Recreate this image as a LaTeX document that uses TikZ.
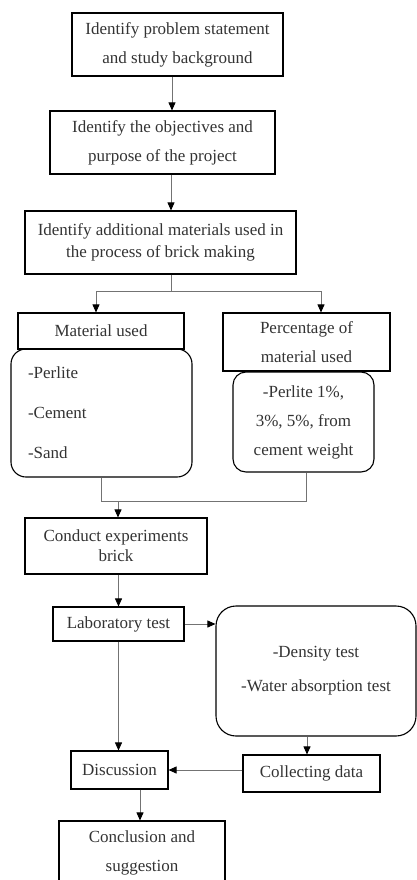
\documentclass[tikz,border=0pt]{standalone}
\usepackage{fontspec}
\setmainfont{Liberation Serif}
\usetikzlibrary{arrows.meta}

\begin{document}
\begin{tikzpicture}[x=1pt, y=-1pt,
    box/.style={draw, line width=1.1pt, align=center, inner sep=0pt, text=black!80, font=\fontsize{17}{29}\selectfont},
    rbox/.style={box, rounded corners=15pt},
    line/.style={draw=black!55, line width=0.8pt},
    arr/.style={line, -{Triangle[length=8pt, width=7pt, color=black]}}]
    \useasboundingbox (0,0) rectangle (417,880);
    \node[box, minimum width=211pt, minimum height=63pt] (prob) at (177.5,44.5) {Identify problem statement\\and study background};
    \node[box, minimum width=225pt, minimum height=63pt] (obj) at (162.5,142.5) {Identify the objectives and\\purpose of the project};
    \node[box, minimum width=271pt, minimum height=63pt, font=\fontsize{17}{22}\selectfont] (addmat) at (160.5,242.5) {Identify additional materials used in\\the process of brick making};
    \node[box, minimum width=166pt, minimum height=36pt] (matused) at (101,331) {Material used};
    \node[rbox, text width=147pt, inner xsep=17pt, minimum height=128pt, align=left, font=\fontsize{17}{40}\selectfont] (matlist) at (101.5,413) {-Perlite\\-Cement\\-Sand};
    \node[box, minimum width=167pt, minimum height=58pt] (pct) at (306.5,342) {Percentage of\\material used};
    \node[rbox, rounded corners=13pt, minimum width=141pt, minimum height=100pt] (pctlist) at (303.5,422) {-Perlite 1\%,\\3\%, 5\%, from\\cement weight};
    \node[box, minimum width=182pt, minimum height=56pt, font=\fontsize{17}{20}\selectfont] (conduct) at (116,546) {Conduct experiments\\brick};
    \node[box, minimum width=131pt, minimum height=34pt] (lab) at (118.5,624) {Laboratory test};
    \node[rbox, rounded corners=20pt, minimum width=200pt, minimum height=130pt, font=\fontsize{17}{34}\selectfont] (tests) at (316,671) {-Density test\\-Water absorption test};
    \node[box, minimum width=137pt, minimum height=37pt] (collect) at (311.5,773.5) {Collecting data};
    \node[box, minimum width=97pt, minimum height=38pt] (disc) at (119.5,770) {Discussion};
    \node[box, minimum width=166pt, minimum height=63pt] (concl) at (142,852.5) {Conclusion and\\suggestion};
    \coordinate (split) at (171,291);
    \coordinate (merge) at (118,501);

    % 矢印を描く
    \draw[arr] ([xshift=-5.5pt]prob.south) -- ([xshift=-5.5pt]prob.south |- obj.north);
    \draw[arr] ([xshift=8.5pt]obj.south) -- ([xshift=8.5pt]obj.south |- addmat.north);
    \draw[line] ([xshift=10.5pt]addmat.south) -- (split);
    \draw[arr] (split) -| ([xshift=-5pt]matused.north);
    \draw[arr] (split) -| ([xshift=14.5pt]pct.north);
    \draw[line] (matlist.south) |- (merge);
    \draw[line] ([xshift=2.5pt]pctlist.south) |- (merge);
    \draw[arr] (merge) -- (merge |- conduct.north);
    \draw[arr] (lab.north |- conduct.south) -- (lab.north);
    \draw[arr] (lab.east) -- (lab.east -| tests.west);
    \draw[arr] (lab.south) -- (lab.south |- disc.north);
    \draw[arr] ([xshift=-4.5pt]collect.north |- tests.south) -- ([xshift=-4.5pt]collect.north);
    \draw[arr] (collect.west |- disc.east) -- (disc.east);
    \draw[arr] ([xshift=20.5pt]disc.south) -- ([xshift=20.5pt]disc.south |- concl.north);
\end{tikzpicture}
\end{document}
